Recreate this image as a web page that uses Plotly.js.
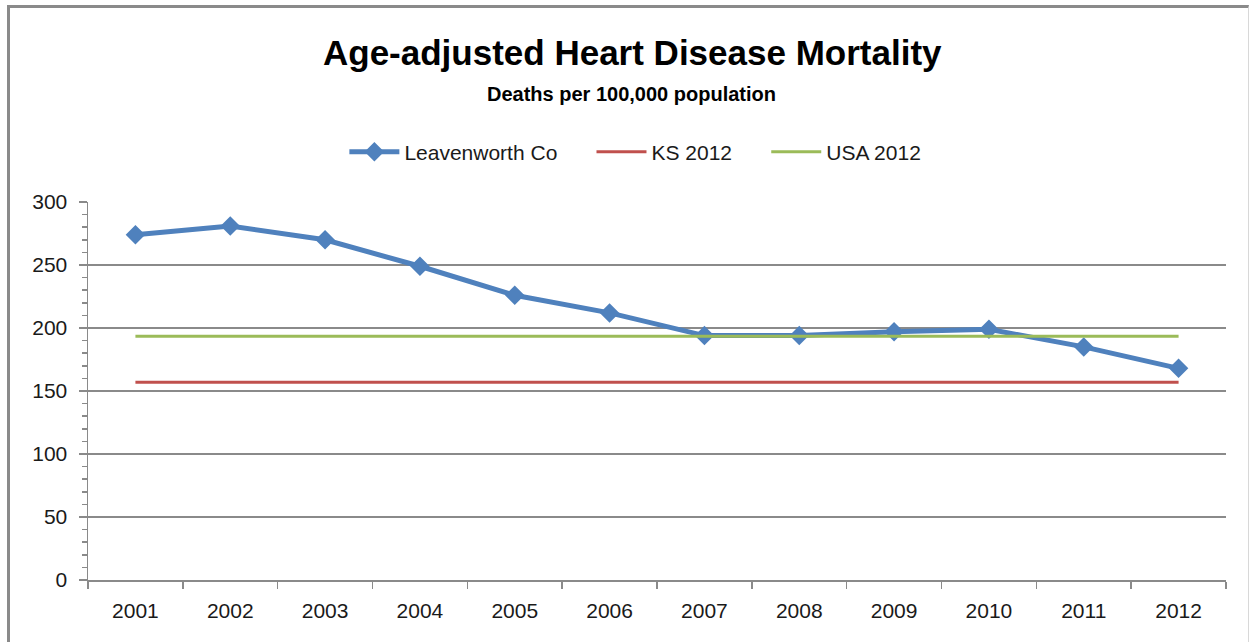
<!DOCTYPE html>
<html>
<head>
<meta charset="utf-8">
<script src="https://cdn.plot.ly/plotly-3.0.1.min.js"></script>
<style>
html,body{margin:0;padding:0;background:#fff;}
#wrap{position:relative;width:1252px;height:642px;overflow:hidden;}
#frame{position:absolute;left:7px;top:5px;width:1242px;height:700px;border-top:3px solid #8a8a8a;border-left:3px solid #8a8a8a;border-right:1px solid #d8d8d8;box-sizing:border-box;}
#chart{position:absolute;left:0;top:0;width:1252px;height:642px;}
</style>
</head>
<body>
<div id="wrap"><div id="frame"></div><div id="chart"></div></div>
<script>
const years = ["2001","2002","2003","2004","2005","2006","2007","2008","2009","2010","2011","2012"];
const leavenworth = [274, 281, 270, 249, 226, 212, 194, 194, 197, 199, 185, 168];
const ks2012 = [157, 157, 157, 157, 157, 157, 157, 157, 157, 157, 157, 157];
const usa2012 = [193.5, 193.5, 193.5, 193.5, 193.5, 193.5, 193.5, 193.5, 193.5, 193.5, 193.5, 193.5];
const yTicks = [0, 50, 100, 150, 200, 250, 300];
const seriesNames = ["Leavenworth Co", "KS 2012", "USA 2012"];

const FONT = "Liberation Sans, Arial, sans-serif";
const PAD = "\u00a0\u00a0\u00a0\u00a0\u00a0";
const traces = [
  {x: years, y: leavenworth, name: seriesNames[0] + PAD, type: "scatter", mode: "lines+markers",
   line: {color: "#4F81BD", width: 5}, marker: {symbol: "diamond", size: 15, color: "#4F81BD"}},
  {x: years, y: ks2012, name: seriesNames[1] + PAD, type: "scatter", mode: "lines",
   line: {color: "#C0504D", width: 3}},
  {x: years, y: usa2012, name: seriesNames[2], type: "scatter", mode: "lines",
   line: {color: "#9BBB59", width: 3}}
];
const layout = {
  width: 1252, height: 642,
  paper_bgcolor: "rgba(0,0,0,0)", plot_bgcolor: "rgba(0,0,0,0)",
  margin: {l: 88, r: 26, t: 202, b: 62},
  font: {family: FONT, color: "#1a1a1a", size: 16},
  title: {text: "<b>Age-adjusted Heart Disease Mortality</b>", x: 0.505, xanchor: "center", y: 0.918, yanchor: "middle",
          font: {family: FONT, size: 35, color: "#000"}},
  annotations: [{text: "<b>Deaths per 100,000 population</b>", xref: "paper", yref: "paper",
     x: 0.478, y: 1.0, yshift: 108, showarrow: false, xanchor: "center", yanchor: "middle",
     font: {family: FONT, size: 20, color: "#000"}}],
  showlegend: true,
  legend: {orientation: "h", x: 0.481, xanchor: "center", y: 1.132, yanchor: "middle", yref: "paper",
           font: {family: FONT, size: 21, color: "#1a1a1a"}, itemwidth: 50, traceorder: "normal"},
  xaxis: {type: "category", range: [-0.5, 11.5], tickson: "boundaries", ticks: "outside", ticklen: 7,
          tickcolor: "#8a8a8a", tickwidth: 1.5, showline: true, linecolor: "#8a8a8a", linewidth: 1.5,
          showgrid: false, tickfont: {family: FONT, size: 21, color: "#1a1a1a"}, ticklabelstandoff: 11,
          fixedrange: true},
  yaxis: {range: [0, 300], tickvals: yTicks, ticks: "outside", ticklen: 8, tickcolor: "#8a8a8a", tickwidth: 1.5,
          showline: true, linecolor: "#8a8a8a", linewidth: 1.5, showgrid: true, gridcolor: "#8a8a8a", gridwidth: 1.5,
          zeroline: false, tickfont: {family: FONT, size: 21, color: "#1a1a1a"}, ticklabelstandoff: 7,
          minor: {dtick: 10, ticks: "outside", ticklen: 5, tickcolor: "#8a8a8a", showgrid: false},
          fixedrange: true}
};
Plotly.newPlot("chart", traces, layout, {displayModeBar: false, staticPlot: true});
</script>
</body>
</html>
